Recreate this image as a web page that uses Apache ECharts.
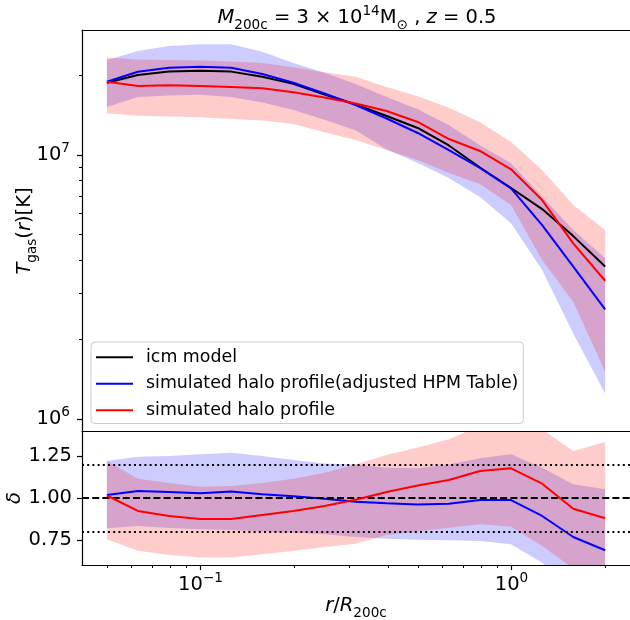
<!DOCTYPE html>
<html>
<head>
<meta charset="utf-8">
<script src="https://cdn.jsdelivr.net/npm/echarts@6/dist/echarts.min.js"></script>
<style>
  html, body { margin: 0; padding: 0; background: #ffffff; }
  #chart { width: 630px; height: 620px; }
</style>
</head>
<body>
<div id="chart"></div>
<script>
// Radial bins r / R200c
const radius = [0.05, 0.0629, 0.0792, 0.0997, 0.1255, 0.158, 0.1989, 0.2504, 0.3152,
                0.3968, 0.4995, 0.6288, 0.7916, 0.9965, 1.2545, 1.5793, 2.0];

// Gas temperature profiles [K]
const icmModelT   = [1.88e7, 2.01e7, 2.07e7, 2.085e7, 2.07e7, 1.98e7, 1.86e7, 1.695e7, 1.555e7,
                     1.405e7, 1.266e7, 1.087e7, 8.97e6, 7.50e6, 6.24e6, 4.93e6, 3.78e6];
const haloAdjT    = [1.895e7, 2.068e7, 2.142e7, 2.161e7, 2.142e7, 2.027e7, 1.879e7, 1.71e7, 1.547e7,
                     1.375e7, 1.212e7, 1.044e7, 8.93e6, 7.48e6, 5.43e6, 3.78e6, 2.60e6];
const haloAdjTLo  = [1.52e7, 1.66e7, 1.68e7, 1.69e7, 1.66e7, 1.58e7, 1.48e7, 1.36e7, 1.24e7,
                     1.05e7, 9.33e6, 8.18e6, 6.93e6, 5.51e6, 3.67e6, 2.11e6, 1.25e6];
const haloAdjTHi  = [2.29e7, 2.48e7, 2.59e7, 2.63e7, 2.63e7, 2.46e7, 2.23e7, 2.05e7, 1.86e7,
                     1.66e7, 1.49e7, 1.30e7, 1.09e7, 9.3e6, 6.95e6, 5.2e6, 4.06e6];
const haloT       = [1.895e7, 1.826e7, 1.837e7, 1.826e7, 1.81e7, 1.789e7, 1.728e7, 1.651e7, 1.567e7,
                     1.468e7, 1.334e7, 1.15e7, 1.036e7, 8.83e6, 6.75e6, 4.63e6, 3.34e6];
const haloTLo     = [1.44e7, 1.41e7, 1.40e7, 1.39e7, 1.37e7, 1.35e7, 1.31e7, 1.22e7, 1.14e7,
                     1.045e7, 9.57e6, 8.55e6, 7.76e6, 6.46e6, 4.0e6, 2.78e6, 1.51e6];
const haloTHi     = [2.34e7, 2.30e7, 2.29e7, 2.28e7, 2.26e7, 2.23e7, 2.15e7, 2.06e7, 1.98e7,
                     1.81e7, 1.67e7, 1.51e7, 1.33e7, 1.12e7, 8.77e6, 6.46e6, 5.2e6];

// Ratio to the icm model, delta
const deltaAdj    = [1.018, 1.042, 1.035, 1.028, 1.038, 1.022, 1.01, 0.996, 0.978,
                     0.968, 0.962, 0.966, 0.988, 0.988, 0.893, 0.768, 0.689];
const deltaAdjLo  = [0.82, 0.833, 0.822, 0.814, 0.81, 0.80, 0.794, 0.784, 0.768,
                     0.757, 0.752, 0.748, 0.744, 0.724, 0.615, 0.45, 0.33];
const deltaAdjHi  = [1.22, 1.246, 1.25, 1.26, 1.27, 1.25, 1.226, 1.206, 1.20,
                     1.18, 1.177, 1.20, 1.236, 1.26, 1.18, 1.082, 1.052];
const deltaHalo   = [1.015, 0.923, 0.893, 0.875, 0.875, 0.899, 0.923, 0.952, 0.99,
                     1.036, 1.075, 1.107, 1.161, 1.177, 1.085, 0.936, 0.879];
const deltaHaloLo = [0.754, 0.686, 0.66, 0.645, 0.645, 0.665, 0.685, 0.708, 0.728,
                     0.78, 0.80, 0.823, 0.843, 0.829, 0.714, 0.58, 0.40];
const deltaHaloHi = [1.22, 1.115, 1.09, 1.067, 1.071, 1.09, 1.115, 1.151, 1.20,
                     1.256, 1.30, 1.35, 1.43, 1.45, 1.41, 1.28, 1.333];

// Reference levels in the ratio panel
const deltaUnity = 1.0;
const deltaBounds = [1.2, 0.8];

// Tick positions
const xMajorTicks = [0.1, 1];
const xMinorTicks = [0.05, 0.06, 0.07, 0.08, 0.09, 0.2, 0.3, 0.4, 0.5, 0.6, 0.7, 0.8, 0.9, 2];
const tMajorTicks = [1e6, 1e7];
const tMinorTicks = [2e6, 3e6, 4e6, 5e6, 6e6, 7e6, 8e6, 9e6, 2e7];
const deltaTicks  = [0.75, 1.0, 1.25];

const seriesNames = ['icm model', 'simulated halo profile(adjusted HPM Table)', 'simulated halo profile'];

// Axis ranges
const X_MIN = 0.04159, X_MAX = 2.404;
const T_MIN = 9.006e5, T_MAX = 2.976e7;
const D_MIN = 0.601, D_MAX = 1.399;

const FONT = 'DejaVu Sans';
const BLUE = '#0000ff', RED = '#ff0000', BLACK = '#000000';

function mathRich(size) {
  const small = +(size * 0.7).toFixed(1);
  return {
    n:   { fontFamily: FONT, fontSize: size, color: '#000' },
    i:   { fontFamily: FONT, fontSize: size, fontStyle: 'italic', color: '#000' },
    sub: { fontFamily: FONT, fontSize: small, color: '#000', padding: [size * 0.72, 0, 0, 0] },
    sup: { fontFamily: FONT, fontSize: small, color: '#000', padding: [0, 0, size * 0.68, 0] }
  };
}

function powerLabel(v) {
  const e = Math.round(Math.log10(v));
  if (Math.abs(Math.log10(v) - e) > 1e-6) return '';
  return '{n|10}{sup|' + (e < 0 ? '\u2212' + (-e) : e) + '}';
}

function bandSeries(name, xs, lo, hi, color, xi, yi) {
  return {
    type: 'custom', name: name, xAxisIndex: xi, yAxisIndex: yi,
    clip: true, silent: true, z: 1,
    data: xs.map((x, k) => [x, lo[k], hi[k]]),
    encode: { x: 0, y: [1, 2] },
    renderItem: function (params, api) {
      if (params.dataIndex !== 0) return null;
      const upper = xs.map((x, k) => api.coord([x, hi[k]]));
      const lower = xs.map((x, k) => api.coord([x, lo[k]])).reverse();
      return {
        type: 'polygon',
        shape: { points: upper.concat(lower) },
        style: { fill: color }
      };
    }
  };
}

function lineSeries(name, xs, ys, color, xi, yi, z) {
  return {
    type: 'line', name: name, xAxisIndex: xi, yAxisIndex: yi,
    data: xs.map((x, k) => [x, ys[k]]),
    showSymbol: false, symbol: 'none', silent: true, z: z,
    color: color,
    lineStyle: { color: color, width: 2 }
  };
}

const axisLineStyle = { show: true, lineStyle: { color: '#000', width: 1.2 } };
const noTick = { show: false };
const noLabel = { show: false };
const noSplit = { show: false };

const chart = echarts.init(document.getElementById('chart'), null, { renderer: 'canvas' });

const option = {
  animation: false,
  backgroundColor: '#ffffff',
  grid: [
    { left: 82, top: 30, width: 550, height: 401 },
    { left: 82, top: 431, width: 550, height: 134 }
  ],
  xAxis: [
    { gridIndex: 0, type: 'log', min: X_MIN, max: X_MAX, position: 'bottom',
      axisLine: { show: false }, axisTick: noTick, axisLabel: noLabel, splitLine: noSplit },
    { gridIndex: 0, type: 'log', min: X_MIN, max: X_MAX, position: 'top', z: 10,
      axisLine: axisLineStyle, axisTick: noTick, axisLabel: noLabel, splitLine: noSplit },
    { gridIndex: 1, type: 'log', min: X_MIN, max: X_MAX, position: 'bottom', z: 10,
      axisLine: axisLineStyle,
      axisTick: { show: true, customValues: xMajorTicks, length: 5, lineStyle: { color: '#000', width: 1.2 } },
      axisLabel: { show: true, customValues: xMajorTicks, margin: 6, formatter: powerLabel, rich: mathRich(19.5) },
      splitLine: noSplit },
    { gridIndex: 1, type: 'log', min: X_MIN, max: X_MAX, position: 'bottom', z: 10,
      axisLine: { show: false },
      axisTick: { show: true, customValues: xMinorTicks, length: 3, lineStyle: { color: '#000', width: 1 } },
      axisLabel: noLabel, splitLine: noSplit },
    { gridIndex: 1, type: 'log', min: X_MIN, max: X_MAX, position: 'top', z: 10,
      axisLine: axisLineStyle, axisTick: noTick, axisLabel: noLabel, splitLine: noSplit }
  ],
  yAxis: [
    { gridIndex: 0, type: 'log', min: T_MIN, max: T_MAX, position: 'left', z: 10,
      axisLine: axisLineStyle,
      axisTick: { show: true, customValues: tMajorTicks, length: 5, lineStyle: { color: '#000', width: 1.2 } },
      axisLabel: { show: true, customValues: tMajorTicks, margin: 12, formatter: powerLabel, rich: mathRich(19.5) },
      splitLine: noSplit },
    { gridIndex: 0, type: 'log', min: T_MIN, max: T_MAX, position: 'left', z: 10,
      axisLine: { show: false },
      axisTick: { show: true, customValues: tMinorTicks, length: 3, lineStyle: { color: '#000', width: 1 } },
      axisLabel: noLabel, splitLine: noSplit },
    { gridIndex: 1, type: 'value', min: D_MIN, max: D_MAX, position: 'left', z: 10,
      axisLine: axisLineStyle,
      axisTick: { show: true, customValues: deltaTicks, length: 5, lineStyle: { color: '#000', width: 1.2 } },
      axisLabel: { show: true, customValues: deltaTicks, margin: 10,
        formatter: v => v.toFixed(2), fontFamily: FONT, fontSize: 19.5, color: '#000' },
      splitLine: noSplit }
  ],
  legend: {
    data: seriesNames,
    orient: 'vertical', left: 91, top: 342,
    icon: 'rect', itemWidth: 37, itemHeight: 2, itemGap: 6,
    padding: [5, 5, 3, 5],
    backgroundColor: 'rgba(255,255,255,0.8)',
    borderColor: '#cccccc', borderWidth: 1, borderRadius: 4,
    selectedMode: false,
    textStyle: { fontFamily: FONT, fontSize: 17.4, color: '#000', lineHeight: 20.5, padding: [0, 0, 0, 8] }
  },
  graphic: [
    { type: 'text', x: 357, y: 18, z: 100,
      style: { text: '{i|M}{sub|200c}{n| = 3 \u00d7 10}{sup|14}{n|M}{sub|\u2299}{n| , }{i|z}{n| = 0.5}',
        rich: mathRich(19.5), align: 'center', verticalAlign: 'middle' } },
    { type: 'text', x: 25, y: 231, rotation: Math.PI / 2, z: 100,
      style: { text: '{i|T}{sub|gas}{n|(}{i|r}{n|)[K]}', rich: mathRich(19.5), align: 'center', verticalAlign: 'middle' } },
    { type: 'text', x: 15, y: 498, rotation: Math.PI / 2, z: 100,
      style: { text: '{i|\u03b4}', rich: mathRich(19.5), align: 'center', verticalAlign: 'middle' } },
    { type: 'text', x: 356, y: 606, z: 100,
      style: { text: '{i|r}{n|/}{i|R}{sub|200c}', rich: mathRich(19.5), align: 'center', verticalAlign: 'middle' } }
  ],
  series: [
    bandSeries('adjusted band', radius, haloAdjTLo, haloAdjTHi, 'rgba(0,0,255,0.2)', 0, 0),
    bandSeries('halo band', radius, haloTLo, haloTHi, 'rgba(255,0,0,0.2)', 0, 0),
    lineSeries(seriesNames[0], radius, icmModelT, BLACK, 0, 0, 3),
    lineSeries(seriesNames[1], radius, haloAdjT, BLUE, 0, 0, 4),
    lineSeries(seriesNames[2], radius, haloT, RED, 0, 0, 5),

    bandSeries('adjusted ratio band', radius, deltaAdjLo, deltaAdjHi, 'rgba(0,0,255,0.2)', 2, 2),
    bandSeries('halo ratio band', radius, deltaHaloLo, deltaHaloHi, 'rgba(255,0,0,0.2)', 2, 2),
    lineSeries('adjusted ratio', radius, deltaAdj, BLUE, 2, 2, 4),
    lineSeries('halo ratio', radius, deltaHalo, RED, 2, 2, 5),
    {
      type: 'line', name: 'reference levels', xAxisIndex: 2, yAxisIndex: 2, data: [], z: 6, silent: true,
      markLine: {
        silent: true, symbol: 'none', label: { show: false }, animation: false,
        data: [
          { yAxis: deltaUnity, lineStyle: { color: '#000', width: 1.8, type: [7, 3.2] } },
          { yAxis: deltaBounds[0], lineStyle: { color: '#000', width: 2, type: [2, 3.2] } },
          { yAxis: deltaBounds[1], lineStyle: { color: '#000', width: 2, type: [2, 3.2] } }
        ]
      }
    }
  ]
};

chart.setOption(option);
</script>
</body>
</html>
